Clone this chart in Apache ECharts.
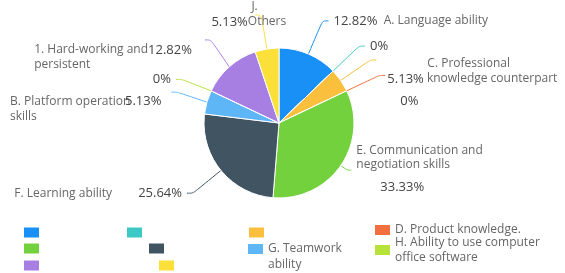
<!DOCTYPE html>
<html>
<head>
<meta charset="utf-8">
<script src="https://cdn.jsdelivr.net/npm/echarts@6/dist/echarts.min.js"></script>
<style>
    html, body { margin: 0; padding: 0; background: #fff; }
    #main { width: 565px; height: 273px; }
</style>
</head>
<body>
<div id="main"></div>
<script>
    // legend names (categories)
    var categories = [
        'A. Language ability',
        'B. Platform operation skills',
        'C. Professional knowledge counterpart',
        'D. Product knowledge.',
        'E. Communication and negotiation skills',
        'F. Learning ability',
        'G. Teamwork ability',
        'H. Ability to use computer office software',
        'I. Hard-working and persistent',
        'J. Others'
    ]
    // percent of answers
    var percents = [12.82, 0, 5.13, 0, 33.33, 25.64, 5.13, 0, 12.82, 5.13]
    // text that sits next to each slice (as shown in the picture)
    var sliceTexts = [
        'A. Language ability',
        '',
        'C. Professional|knowledge counterpart',
        '',
        'E. Communication and|negotiation skills',
        'F. Learning ability',
        'B. Platform operation|skills',
        '',
        '1. Hard-working and|persistent',
        'J.|Others'
    ]
    // legend text actually readable in the picture
    var legendTexts = ['', '', '', 'D. Product knowledge.', '', '', ' \nG. Teamwork\nability', 'H. Ability to use computer\noffice software', '', '']

    var colors = ['#1890f5', '#3cc8c4', '#fbbf3e', '#f2703f', '#73d13d', '#415462', '#5fb6f6', '#b6e23a', '#a77fe3', '#fbe03a']

    // legend slots: icon left x, icon centre y
    var legendSlots = [[22, 233], [125, 233], [247, 233], [373, 230], [22, 249], [147, 249], [246, 249], [373, 250], [22, 266], [157, 266]]

    // nudges for the slice labels (label padding)
    var labelPads = {
        2: [24, 0, 0, 6],
        3: [52, 0, 0, 10],
        4: [0, 0, 10, 0],
        6: [32, 5, 0, 0],
        8: [34, 8, 0, 0],
        9: [0, -36, 0, 0]
    }

    function labelText(p) {
        var i = p.dataIndex
        var pct = p.value + '%'
        var t = sliceTexts[i].split('|')
        if (!sliceTexts[i]) return '{p|' + pct + '}'
        switch (i) {
            case 0: return '{p|' + pct + '}  {n|' + t[0] + '}'
            case 2: return '{gap|}{n|' + t[0] + '}\n{p|' + pct + '} {n|' + t[1] + '}'
            case 4: return '{n|' + t[0] + '}\n{n|' + t[1] + '}\n{ind|}{pe|' + pct + '}'
            case 5: return '{n|' + t[0] + '}{sp|}{p|' + pct + '}'
            case 9: return '{gap|}{nl|' + t[0] + '}\n{p|' + pct + '}{nl|' + t[1] + '}'
            default: return '{nl|' + t[0] + '}{p|' + pct + '}\n{nl|' + t[1] + '}'
        }
    }

    var seriesData = categories.map(function (c, i) {
        var item = { name: c, value: percents[i] }
        if (i === 4) item.labelLine = { length: 8, length2: 4 }
        if (labelPads[i]) item.label = { padding: labelPads[i] }
        return item
    })

    var legends = categories.map(function (c, i) {
        var n = legendTexts[i] ? legendTexts[i].split('\n').length : 1
        var lh = i === 6 ? 16 : 15
        return {
            data: [c],
            left: legendSlots[i][0],
            top: legendSlots[i][1] - n * lh / 2,
            padding: 0,
            icon: 'rect',
            itemWidth: 17,
            itemHeight: 12,
            itemGap: 0,
            selectedMode: false,
            formatter: function () { return legendTexts[i] },
            textStyle: {
                fontFamily: 'Open Sans',
                fontSize: 12,
                color: '#666',
                lineHeight: lh,
                padding: [0, 0, 0, -1]
            }
        }
    })

    var chart = echarts.init(document.getElementById('main'))
    chart.setOption({
        animation: false,
        color: colors,
        legend: legends,
        series: [{
            type: 'pie',
            center: [279, 123],
            radius: 75,
            startAngle: 90,
            data: seriesData,
            itemStyle: {
                borderColor: '#fff',
                borderWidth: 1
            },
            label: {
                formatter: labelText,
                fontFamily: 'Open Sans',
                color: '#666',
                edgeDistance: 0,
                overflow: 'none',
                rich: {
                    p: { fontFamily: 'Open Sans', fontSize: 13, color: '#444', lineHeight: 16 },
                    pe: { fontFamily: 'Open Sans', fontSize: 13, color: '#444', lineHeight: 16, padding: [16, 0, 0, 0] },
                    n: { fontFamily: 'Open Sans', fontSize: 12, color: '#666', lineHeight: 14 },
                    nl: { fontFamily: 'Open Sans', fontSize: 12, color: '#666', lineHeight: 14, align: 'left' },
                    gap: { width: 40, align: 'left' },
                    ind: { width: 24 },
                    sp: { width: 26 }
                }
            },
            labelLine: {
                length: 36,
                length2: 6,
                smooth: true,
                lineStyle: { width: 1 }
            }
        }]
    })
</script>
</body>
</html>
